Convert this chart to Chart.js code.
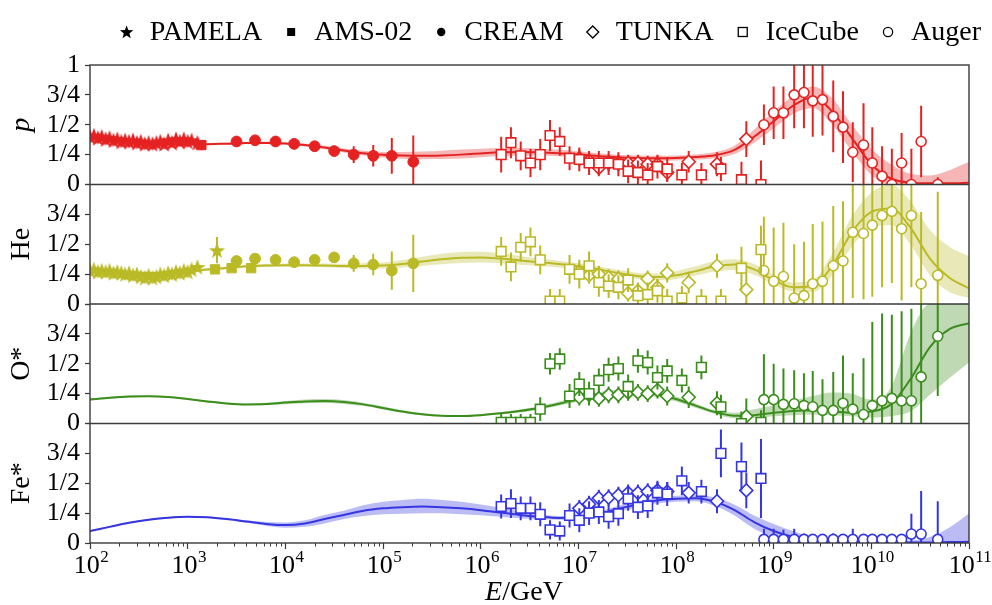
<!DOCTYPE html>
<html>
<head>
<meta charset="utf-8">
<script src="https://cdn.jsdelivr.net/npm/chart.js@4.4.1/dist/chart.umd.min.js"></script>
<style>
  html, body { margin: 0; padding: 0; background: #fff; }
  #wrap { width: 992px; height: 605px; }
</style>
</head>
<body>
<div id="wrap"><canvas id="chart"></canvas></div>
<script>
// fitted curves, sampled at log10(E/GeV)
const curveLogE = [2.0, 2.2, 2.4, 2.6, 2.8, 3.0, 3.2, 3.4, 3.6, 3.8, 4.0, 4.2, 4.4, 4.6, 4.8, 5.0, 5.2, 5.4, 5.6, 5.8,
  6.0, 6.2, 6.4, 6.6, 6.8, 7.0, 7.2, 7.4, 7.6, 7.8, 8.0, 8.2, 8.4, 8.6, 8.8, 9.0, 9.2, 9.4, 9.6, 9.8,
  10.0, 10.2, 10.4, 10.6, 10.8, 11.0];

const pMid = [0.385, 0.37, 0.355, 0.345, 0.338, 0.335, 0.337, 0.342, 0.347, 0.348, 0.343, 0.33, 0.31, 0.285, 0.262, 0.248, 0.242, 0.24, 0.243, 0.25,
  0.26, 0.27, 0.272, 0.27, 0.262, 0.25, 0.238, 0.228, 0.222, 0.22, 0.222, 0.23, 0.245, 0.29, 0.40, 0.53, 0.66, 0.73, 0.61, 0.39,
  0.17, 0.05, 0.015, 0.01, 0.01, 0.015];
const pLow = [0.375, 0.362, 0.347, 0.338, 0.331, 0.328, 0.33, 0.335, 0.339, 0.339, 0.332, 0.317, 0.295, 0.268, 0.242, 0.226, 0.216, 0.212, 0.213, 0.218,
  0.228, 0.238, 0.242, 0.242, 0.236, 0.226, 0.215, 0.207, 0.201, 0.199, 0.201, 0.208, 0.22, 0.255, 0.35, 0.47, 0.59, 0.64, 0.5, 0.28,
  0.08, 0, 0, 0, 0, 0];
const pHigh = [0.395, 0.378, 0.363, 0.352, 0.345, 0.342, 0.344, 0.349, 0.355, 0.357, 0.354, 0.343, 0.325, 0.302, 0.282, 0.272, 0.272, 0.276, 0.283, 0.292,
  0.3, 0.306, 0.305, 0.3, 0.29, 0.276, 0.262, 0.25, 0.243, 0.241, 0.243, 0.252, 0.272, 0.325, 0.46, 0.61, 0.74, 0.82, 0.72, 0.5,
  0.3, 0.17, 0.09, 0.075, 0.12, 0.19];

const heMid = [0.285, 0.275, 0.265, 0.26, 0.262, 0.272, 0.288, 0.302, 0.315, 0.322, 0.325, 0.325, 0.322, 0.318, 0.318, 0.322, 0.335, 0.355, 0.375, 0.388,
  0.39, 0.38, 0.365, 0.35, 0.335, 0.315, 0.29, 0.26, 0.235, 0.225, 0.24, 0.275, 0.315, 0.33, 0.29, 0.2, 0.14, 0.15, 0.32, 0.6,
  0.77, 0.8, 0.64, 0.38, 0.22, 0.13];
const heLow = [0.273, 0.263, 0.253, 0.248, 0.25, 0.26, 0.276, 0.29, 0.303, 0.31, 0.312, 0.311, 0.307, 0.301, 0.298, 0.298, 0.305, 0.318, 0.333, 0.343,
  0.347, 0.34, 0.328, 0.318, 0.305, 0.288, 0.264, 0.234, 0.21, 0.198, 0.208, 0.238, 0.272, 0.285, 0.245, 0.165, 0.105, 0.1, 0.24, 0.48,
  0.64, 0.66, 0.5, 0.24, 0.1, 0.05];
const heHigh = [0.297, 0.287, 0.277, 0.272, 0.274, 0.284, 0.3, 0.314, 0.327, 0.334, 0.338, 0.339, 0.338, 0.336, 0.34, 0.348, 0.368, 0.395, 0.42, 0.435,
  0.437, 0.425, 0.402, 0.382, 0.362, 0.342, 0.316, 0.286, 0.262, 0.255, 0.275, 0.315, 0.36, 0.375, 0.335, 0.245, 0.18, 0.2, 0.42, 0.73,
  0.93, 1, 0.86, 0.62, 0.48, 0.4];

const oMid = [0.2, 0.215, 0.225, 0.228, 0.222, 0.205, 0.185, 0.168, 0.16, 0.163, 0.175, 0.185, 0.188, 0.18, 0.16, 0.13, 0.1, 0.077, 0.065, 0.063,
  0.07, 0.085, 0.105, 0.13, 0.165, 0.205, 0.24, 0.258, 0.26, 0.245, 0.205, 0.15, 0.095, 0.065, 0.07, 0.09, 0.105, 0.11, 0.1, 0.09,
  0.1, 0.16, 0.37, 0.64, 0.79, 0.84];
const oLow = [0.193, 0.208, 0.218, 0.221, 0.215, 0.198, 0.178, 0.161, 0.152, 0.153, 0.162, 0.17, 0.172, 0.164, 0.146, 0.118, 0.09, 0.069, 0.058, 0.056,
  0.062, 0.075, 0.092, 0.115, 0.148, 0.185, 0.218, 0.235, 0.237, 0.222, 0.185, 0.132, 0.08, 0.045, 0.045, 0.06, 0.07, 0.075, 0.07, 0.06,
  0.05, 0.06, 0.1, 0.24, 0.38, 0.51];
const oHigh = [0.207, 0.222, 0.232, 0.235, 0.229, 0.212, 0.192, 0.175, 0.168, 0.173, 0.188, 0.2, 0.204, 0.196, 0.174, 0.142, 0.11, 0.085, 0.072, 0.07,
  0.078, 0.095, 0.118, 0.145, 0.182, 0.225, 0.262, 0.281, 0.283, 0.268, 0.225, 0.168, 0.11, 0.09, 0.12, 0.15, 0.19, 0.23, 0.26, 0.25,
  0.2, 0.3, 0.75, 1, 1, 1];

const feMid = [0.1, 0.135, 0.17, 0.195, 0.212, 0.22, 0.215, 0.2, 0.18, 0.16, 0.15, 0.163, 0.2, 0.235, 0.27, 0.29, 0.3, 0.305, 0.3, 0.29,
  0.275, 0.255, 0.235, 0.22, 0.21, 0.215, 0.24, 0.285, 0.32, 0.355, 0.37, 0.375, 0.345, 0.275, 0.175, 0.1, 0.05, 0.02, 0.008, 0.005,
  0.005, 0.005, 0.005, 0.005, 0.008, 0.01];
const feLow = [0.094, 0.129, 0.164, 0.189, 0.206, 0.214, 0.209, 0.193, 0.17, 0.145, 0.128, 0.135, 0.163, 0.2, 0.225, 0.24, 0.245, 0.25, 0.248, 0.24,
  0.232, 0.22, 0.208, 0.2, 0.195, 0.197, 0.218, 0.26, 0.295, 0.33, 0.345, 0.35, 0.31, 0.23, 0.12, 0.05, 0.01, 0, 0, 0,
  0, 0, 0, 0, 0, 0];
const feHigh = [0.106, 0.141, 0.176, 0.201, 0.218, 0.226, 0.221, 0.207, 0.19, 0.175, 0.172, 0.19, 0.235, 0.27, 0.315, 0.345, 0.36, 0.37, 0.36, 0.345,
  0.322, 0.295, 0.265, 0.24, 0.225, 0.233, 0.262, 0.31, 0.345, 0.38, 0.395, 0.4, 0.38, 0.32, 0.23, 0.16, 0.1, 0.05, 0.025, 0.015,
  0.015, 0.015, 0.02, 0.05, 0.13, 0.25];

// measurements, log10(E/GeV)
const pamelaLogE = [2.00, 2.04, 2.08, 2.12, 2.16, 2.20, 2.24, 2.28, 2.32, 2.36, 2.40, 2.44, 2.48, 2.52, 2.56, 2.60, 2.64, 2.68, 2.72, 2.76,
  2.80, 2.84, 2.88, 2.92, 2.96, 3.00, 3.04, 3.10, 3.30];
const pamelaP = [0.40, 0.41, 0.39, 0.40, 0.38, 0.39, 0.37, 0.38, 0.36, 0.37, 0.36, 0.37, 0.35, 0.36, 0.34, 0.35, 0.34, 0.35, 0.36, 0.34,
  0.37, 0.35, 0.38, 0.36, 0.38, 0.36, 0.37, 0.35, null];
const pamelaHe = [0.28, 0.29, 0.27, 0.28, 0.27, 0.28, 0.26, 0.27, 0.26, 0.25, 0.26, 0.24, 0.25, 0.23, 0.22, 0.24, 0.22, 0.23, 0.25, 0.24,
  0.26, 0.25, 0.27, 0.26, 0.28, 0.27, 0.29, 0.31, 0.45];
const pamelaErr = [0.01, 0.01, 0.01, 0.01, 0.01, 0.01, 0.01, 0.01, 0.01, 0.01, 0.01, 0.01, 0.01, 0.01, 0.01, 0.01, 0.01, 0.01, 0.015, 0.015,
  0.015, 0.015, 0.02, 0.02, 0.02, 0.02, 0.025, 0.03, 0.11];

const amsLogE = [3.14, 3.28, 3.45, 3.65];
const amsP = [0.33, null, null, null];
const amsHe = [null, 0.29, 0.30, 0.30];
const amsErr = [0.01, 0.01, 0.01, 0.01];

const creamLogE = [3.50, 3.69, 3.90, 4.09, 4.30, 4.50, 4.70, 4.90, 5.09, 5.31];
const creamP = [0.36, 0.37, 0.36, 0.34, 0.32, 0.28, 0.25, 0.24, 0.24, 0.19];
const creamPErr = [0.015, 0.015, 0.015, 0.02, 0.025, 0.04, 0.07, 0.09, 0.15, 0.22];
const creamHe = [0.36, 0.38, 0.37, 0.35, 0.37, 0.39, 0.34, 0.33, 0.28, 0.34];
const creamHeErr = [0.015, 0.015, 0.015, 0.02, 0.025, 0.04, 0.07, 0.09, 0.16, 0.24];

const tunkaLogE = [7.01, 7.11, 7.21, 7.31, 7.41, 7.51, 7.61, 7.71, 7.81, 7.91, 8.13, 8.42, 8.72];
const tunkaP = [0.22, 0.20, 0.14, 0.18, 0.18, 0.18, 0.18, 0.17, 0.17, 0.10, 0.19, 0.17, 0.38];
const tunkaHe = [0.27, 0.24, 0.25, 0.22, 0.21, 0.09, 0.11, 0.21, 0.14, 0.26, 0.18, 0.32, 0.12];
const tunkaO = [0.22, 0.24, 0.21, 0.24, 0.24, 0.26, 0.26, 0.25, 0.28, 0.23, 0.22, 0.17, 0.06];
const tunkaFe = [0.29, 0.325, 0.375, 0.38, 0.40, 0.42, 0.42, 0.43, 0.44, 0.43, 0.42, 0.35, 0.44];
const tunkaErr = [0.07, 0.07, 0.07, 0.07, 0.07, 0.07, 0.07, 0.07, 0.07, 0.08, 0.09, 0.10, 0.15];

const iceLogE = [6.21, 6.31, 6.41, 6.51, 6.61, 6.71, 6.81, 6.91, 7.01, 7.11, 7.21, 7.31, 7.41, 7.51, 7.61, 7.71, 7.81, 7.91, 8.06, 8.26,
  8.46, 8.67, 8.87];
const iceP = [0.25, 0.35, 0.24, 0.18, 0.25, 0.41, 0.36, 0.22, 0.21, 0.18, 0.18, 0.18, 0.17, 0.11, 0.10, 0.08, 0.15, 0.13, 0.08, 0.08,
  0.13, 0.04, 0.0];
const icePErr = [0.15, 0.13, 0.12, 0.12, 0.13, 0.13, 0.12, 0.1, 0.1, 0.1, 0.1, 0.1, 0.1, 0.1, 0.1, 0.1, 0.1, 0.1, 0.1, 0.1,
  0.1, 0.15, 0.2];
const iceHe = [0.44, 0.31, 0.475, 0.52, 0.37, 0.025, 0.025, 0.29, 0.25, 0.32, 0.18, 0.15, 0.14, 0.20, 0.07, 0.08, 0.11, 0.025, 0.05, 0.025,
  0.025, 0.30, 0.455];
const iceHeErr = [0.12, 0.12, 0.12, 0.12, 0.12, 0.1, 0.1, 0.12, 0.12, 0.12, 0.12, 0.1, 0.1, 0.1, 0.1, 0.1, 0.1, 0.1, 0.1, 0.1,
  0.1, 0.18, 0.2];
const iceO = [0.01, 0.01, 0.01, 0.01, 0.12, 0.50, 0.54, 0.23, 0.33, 0.25, 0.36, 0.45, 0.46, 0.31, 0.525, 0.51, 0.385, 0.44, 0.36, 0.47,
  0.14, 0.0, 0.01];
const iceOErr = [0.07, 0.07, 0.07, 0.07, 0.1, 0.09, 0.09, 0.1, 0.1, 0.1, 0.1, 0.1, 0.1, 0.1, 0.1, 0.1, 0.1, 0.1, 0.1, 0.1,
  0.1, 0.1, 0.1];
const iceFe = [0.305, 0.33, 0.29, 0.29, 0.24, 0.11, 0.10, 0.23, 0.19, 0.25, 0.26, 0.22, 0.245, 0.37, 0.30, 0.31, 0.42, 0.41, 0.52, 0.43,
  0.75, 0.64, 0.54];
const iceFeErr = [0.1, 0.12, 0.1, 0.1, 0.1, 0.08, 0.08, 0.1, 0.1, 0.1, 0.1, 0.1, 0.1, 0.1, 0.1, 0.1, 0.1, 0.1, 0.12, 0.1,
  0.2, 0.2, 0.33];

const augerLogE = [8.90, 9.00, 9.10, 9.21, 9.31, 9.40, 9.50, 9.61, 9.71, 9.81, 9.92, 10.01, 10.11, 10.21, 10.31, 10.41, 10.51, 10.68];
const augerP = [0.50, 0.60, 0.60, 0.75, 0.77, 0.70, 0.71, 0.57, 0.48, 0.27, 0.33, 0.18, 0.07, 0.0, 0.18, 0.0, 0.36, 0.0];
const augerPErr = [0.17, 0.22, 0.22, 0.28, 0.3, 0.3, 0.3, 0.3, 0.3, 0.25, 0.35, 0.3, 0.25, 0.3, 0.25, 0.3, 0.3, 0.06];
const augerHe = [0.28, 0.19, 0.23, 0.05, 0.07, 0.17, 0.19, 0.32, 0.36, 0.60, 0.59, 0.66, 0.74, 0.775, 0.63, 0.74, 0.17, 0.24];
const augerHeErr = [0.45, 0.45, 0.45, 0.45, 0.45, 0.5, 0.5, 0.5, 0.5, 0.55, 0.55, 0.6, 0.6, 0.6, 0.6, 0.6, 0.6, 0.7];
const augerO = [0.20, 0.20, 0.16, 0.165, 0.15, 0.14, 0.11, 0.11, 0.17, 0.12, 0.075, 0.15, 0.19, 0.21, 0.19, 0.19, 0.39, 0.73];
const augerOErr = [0.38, 0.3, 0.3, 0.28, 0.27, 0.3, 0.26, 0.32, 0.4, 0.3, 0.47, 0.7, 0.73, 0.7, 0.75, 0.77, 0.62, 0.5];
const augerFe = [0.03, 0.03, 0.03, 0.03, 0.03, 0.03, 0.03, 0.03, 0.03, 0.03, 0.03, 0.03, 0.03, 0.03, 0.03, 0.075, 0.075, 0.03];
const augerFeErr = [0.09, 0.09, 0.08, 0.09, 0.05, 0.03, 0.03, 0.05, 0.04, 0.09, 0.03, 0.03, 0.03, 0.03, 0.03, 0.17, 0.36, 0.32];

const legendNames = ['PAMELA', 'AMS-02', 'CREAM', 'TUNKA', 'IceCube', 'Auger'];
const legendMarkers = ['star', 'square', 'dot', 'diamond', 'box', 'ring'];
const yTickValues = [0, 0.25, 0.5, 0.75, 1];
const yTickLabels = ['0', '1/4', '1/2', '3/4', '1'];
const xTickPowers = [2, 3, 4, 5, 6, 7, 8, 9, 10, 11];

const serif = '"Liberation Serif", "Times New Roman", serif';

const colRed = '#e52222';
const colOlive = '#baba27';
const colGreen = '#3b8d1c';
const colBlue = '#3535e2';

function fade(hex, a) {
  const n = parseInt(hex.slice(1), 16);
  return `rgba(${n >> 16},${(n >> 8) & 255},${n & 255},${a})`;
}

function starPath(g, cx, cy, r) {
  g.beginPath();
  for (let i = 0; i < 10; i++) {
    const ang = -Math.PI / 2 + i * Math.PI / 5;
    const rr = i % 2 ? r * 0.42 : r;
    g.lineTo(cx + rr * Math.cos(ang), cy + rr * Math.sin(ang));
  }
  g.closePath();
}

function starImage(color) {
  const c = document.createElement('canvas');
  c.width = c.height = 20;
  const g = c.getContext('2d');
  g.fillStyle = color;
  starPath(g, 10, 10.8, 8.5);
  g.fill();
  return c;
}

const toE = v => Math.pow(10, v);
const curve = vals => vals.map((v, i) => ({ x: toE(curveLogE[i]), y: v }));

function points(logE, vals, errs) {
  const out = [];
  vals.forEach((v, i) => {
    if (v === null) return;
    out.push({ x: toE(logE[i]), y: v, lo: v - errs[i], hi: v + errs[i] });
  });
  return out;
}

const panels = [
  { axis: 'yP', color: colRed, mid: pMid, low: pLow, high: pHigh, series: [
    ['pamela', pamelaLogE, pamelaP, pamelaErr], ['ams', amsLogE, amsP, amsErr], ['cream', creamLogE, creamP, creamPErr],
    ['ice', iceLogE, iceP, icePErr], ['tunka', tunkaLogE, tunkaP, tunkaErr], ['auger', augerLogE, augerP, augerPErr]] },
  { axis: 'yHe', color: colOlive, mid: heMid, low: heLow, high: heHigh, series: [
    ['pamela', pamelaLogE, pamelaHe, pamelaErr], ['ams', amsLogE, amsHe, amsErr], ['cream', creamLogE, creamHe, creamHeErr],
    ['ice', iceLogE, iceHe, iceHeErr], ['tunka', tunkaLogE, tunkaHe, tunkaErr], ['auger', augerLogE, augerHe, augerHeErr]] },
  { axis: 'yO', color: colGreen, mid: oMid, low: oLow, high: oHigh, series: [
    ['ice', iceLogE, iceO, iceOErr], ['tunka', tunkaLogE, tunkaO, tunkaErr], ['auger', augerLogE, augerO, augerOErr]] },
  { axis: 'yFe', color: colBlue, mid: feMid, low: feLow, high: feHigh, series: [
    ['ice', iceLogE, iceFe, iceFeErr], ['tunka', tunkaLogE, tunkaFe, tunkaErr], ['auger', augerLogE, augerFe, augerFeErr]] }
];

function markerOpts(kind, color) {
  switch (kind) {
    case 'pamela': return { pointStyle: starImage(color), pointRadius: 7, pointBackgroundColor: color, pointBorderColor: color, pointBorderWidth: 0 };
    case 'ams': return { pointStyle: 'rect', pointRadius: 6.6, pointBackgroundColor: color, pointBorderColor: color, pointBorderWidth: 1 };
    case 'cream': return { pointStyle: 'circle', pointRadius: 5.4, pointBackgroundColor: color, pointBorderColor: color, pointBorderWidth: 1 };
    case 'tunka': return { pointStyle: 'rectRot', pointRadius: 6.5, pointBackgroundColor: '#fff', pointBorderColor: color, pointBorderWidth: 1.6 };
    case 'ice': return { pointStyle: 'rect', pointRadius: 6.8, pointBackgroundColor: '#fff', pointBorderColor: color, pointBorderWidth: 1.6 };
    default: return { pointStyle: 'circle', pointRadius: 5, pointBackgroundColor: '#fff', pointBorderColor: color, pointBorderWidth: 1.6 };
  }
}

const datasets = [];
panels.forEach(pn => {
  const upperIndex = datasets.length;
  datasets.push({ data: curve(pn.high), yAxisID: pn.axis, showLine: true, borderWidth: 0, pointRadius: 0,
    cubicInterpolationMode: 'monotone', fill: false, order: 3 });
  datasets.push({ data: curve(pn.low), yAxisID: pn.axis, showLine: true, borderWidth: 0, pointRadius: 0,
    cubicInterpolationMode: 'monotone', fill: { target: upperIndex }, backgroundColor: fade(pn.color, 0.33), order: 3 });
  datasets.push({ data: curve(pn.mid), yAxisID: pn.axis, showLine: true, borderWidth: 2, borderColor: pn.color, pointRadius: 0,
    cubicInterpolationMode: 'monotone', fill: false, order: 2 });
  pn.series.forEach(([kind, logE, vals, errs]) => {
    datasets.push(Object.assign({ data: points(logE, vals, errs), yAxisID: pn.axis, showLine: false, order: 1,
      errColor: pn.color }, markerOpts(kind, pn.color)));
  });
});

// vertical error bars, drawn just before the markers of each data set
const errorBars = {
  id: 'errorBars',
  beforeDatasetDraw(chart, args) {
    const ds = chart.data.datasets[args.index];
    if (!ds.errColor) return;
    const xs = args.meta.xScale, ys = args.meta.yScale;
    const ctx = chart.ctx;
    ctx.save();
    ctx.beginPath();
    ctx.rect(xs.left, ys.top, xs.right - xs.left, ys.bottom - ys.top);
    ctx.clip();
    ctx.strokeStyle = ds.errColor;
    ctx.lineWidth = 2;
    ctx.beginPath();
    ds.data.forEach(d => {
      const px = xs.getPixelForValue(d.x);
      ctx.moveTo(px, ys.getPixelForValue(d.lo));
      ctx.lineTo(px, ys.getPixelForValue(d.hi));
    });
    ctx.stroke();
    ctx.restore();
  }
};

function legendMarker(ctx, kind, x, y) {
  ctx.fillStyle = '#000';
  ctx.strokeStyle = '#000';
  ctx.lineWidth = 1.3;
  if (kind === 'star') { starPath(ctx, x, y + 0.5, 7); ctx.fill(); }
  else if (kind === 'square') { ctx.fillRect(x - 4, y - 4, 8, 8); }
  else if (kind === 'dot') { ctx.beginPath(); ctx.arc(x, y, 4.2, 0, Math.PI * 2); ctx.fill(); }
  else if (kind === 'diamond') {
    ctx.beginPath(); ctx.moveTo(x, y - 6); ctx.lineTo(x + 6, y); ctx.lineTo(x, y + 6); ctx.lineTo(x - 6, y); ctx.closePath(); ctx.stroke();
  }
  else if (kind === 'box') { ctx.strokeRect(x - 4.5, y - 4.5, 9, 9); }
  else { ctx.beginPath(); ctx.arc(x, y, 4.6, 0, Math.PI * 2); ctx.stroke(); }
}

const decor = {
  id: 'decor',
  afterDatasetsDraw(chart) {
    const { ctx, chartArea: a, scales } = chart;
    ctx.save();
    ctx.strokeStyle = '#3a3a3a';
    ctx.lineWidth = 1.4;
    ctx.strokeRect(a.left, a.top, a.right - a.left, a.bottom - a.top);
    ctx.beginPath();
    panels.forEach(pn => {
      const s = scales[pn.axis];
      if (s.bottom < a.bottom - 2) { ctx.moveTo(a.left, s.bottom); ctx.lineTo(a.right, s.bottom); }
    });
    ctx.stroke();
    ctx.restore();
  },
  afterDraw(chart) {
    const { ctx, chartArea: a, scales } = chart;
    const xs = scales.x;
    ctx.save();
    // minor ticks
    ctx.strokeStyle = '#3a3a3a';
    ctx.lineWidth = 1;
    ctx.beginPath();
    for (let p = xTickPowers[0]; p < xTickPowers[xTickPowers.length - 1]; p++) {
      for (let m = 2; m <= 9; m++) {
        const px = Math.round(xs.getPixelForValue(m * Math.pow(10, p))) + 0.5;
        ctx.moveTo(px, a.bottom);
        ctx.lineTo(px, a.bottom + 3.5);
      }
    }
    ctx.stroke();
    // decade labels
    ctx.fillStyle = '#000';
    ctx.textBaseline = 'alphabetic';
    ctx.textAlign = 'left';
    xTickPowers.forEach(p => {
      const px = xs.getPixelForValue(Math.pow(10, p));
      ctx.font = '26px ' + serif;
      const wb = ctx.measureText('10').width;
      ctx.font = '17px ' + serif;
      const we = ctx.measureText(String(p)).width;
      const start = px - (wb + we) / 2 + 1;
      ctx.font = '26px ' + serif;
      ctx.fillText('10', start, 573);
      ctx.font = '17px ' + serif;
      ctx.fillText(String(p), start + wb + 0.5, 562);
    });
    // axis title E/GeV
    ctx.font = 'italic 28px ' + serif;
    const wE = ctx.measureText('E').width;
    ctx.font = '28px ' + serif;
    const wRest = ctx.measureText('/GeV').width;
    const tx = 524 - (wE + wRest) / 2;
    ctx.font = 'italic 28px ' + serif;
    ctx.fillText('E', tx, 600);
    ctx.font = '28px ' + serif;
    ctx.fillText('/GeV', tx + wE, 600);
    // legend, right-aligned above the panels
    ctx.font = '28px ' + serif;
    ctx.textBaseline = 'middle';
    const widths = legendNames.map(t => ctx.measureText(t).width);
    const total = widths.reduce((s, w) => s + w, 0) + legendNames.length * 23 + (legendNames.length - 1) * 29;
    let mx = 981 - total;
    legendNames.forEach((t, i) => {
      legendMarker(ctx, legendMarkers[i], mx, 32);
      ctx.fillStyle = '#000';
      ctx.fillText(t, mx + 23, 33);
      mx += 23 + widths[i] + 29;
    });
    ctx.restore();
  }
};

function panelAxis(title, italic, showOne) {
  return {
    type: 'linear', position: 'left', stack: 'panels', stackWeight: 1,
    min: 0, max: 1,
    afterFit: s => { s.width = 90; },
    border: { display: false },
    grid: { drawOnChartArea: false, drawTicks: true, tickLength: 5, tickColor: '#3a3a3a', tickWidth: 1.2 },
    ticks: {
      stepSize: 0.25, autoSkip: false, padding: 5, color: '#000',
      font: { family: serif, size: 26 },
      callback: v => {
        const i = yTickValues.indexOf(v);
        if (i < 0 || (v === 1 && !showOne)) return '';
        return yTickLabels[i];
      }
    },
    title: {
      display: true, text: title, color: '#000', padding: { top: 5, bottom: 0 },
      font: { family: serif, size: 28, style: italic ? 'italic' : 'normal' }
    }
  };
}

new Chart(document.getElementById('chart'), {
  type: 'scatter',
  data: { datasets },
  plugins: [errorBars, decor],
  options: {
    responsive: true,
    maintainAspectRatio: false,
    animation: false,
    events: [],
    layout: { padding: { top: 65, right: 23, bottom: 0, left: 0 } },
    plugins: {
      legend: { display: false },
      tooltip: { enabled: false }
    },
    scales: {
      x: {
        type: 'logarithmic', position: 'bottom', min: 1e2, max: 1e11,
        afterFit: s => { s.height = 62; },
        afterBuildTicks: s => {
          s.ticks = s.ticks.filter(t => {
            const l = Math.log10(t.value);
            return Math.abs(l - Math.round(l)) < 1e-6;
          });
        },
        border: { display: false },
        grid: { drawOnChartArea: false, drawTicks: true, tickLength: 6, tickColor: '#3a3a3a', tickWidth: 1.2 },
        ticks: { display: false }
      },
      yFe: panelAxis('Fe*', false, false),
      yO: panelAxis('O*', false, false),
      yHe: panelAxis('He', false, false),
      yP: panelAxis('p', true, true)
    }
  }
});
</script>
</body>
</html>
